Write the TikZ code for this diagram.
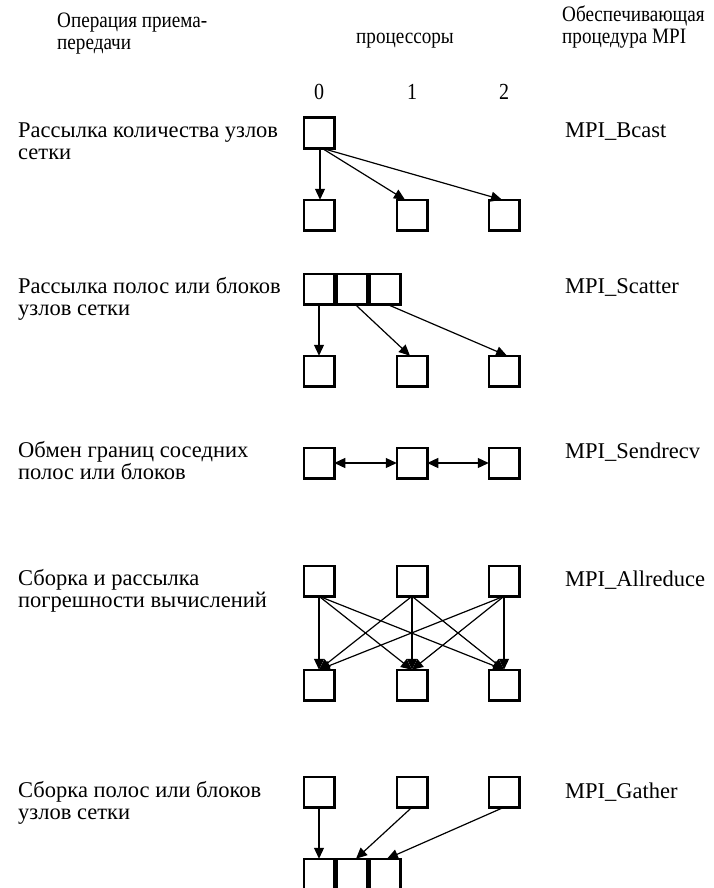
\documentclass[tikz,border=0pt]{standalone}
\usepackage{fontspec}
\setmainfont{Liberation Serif}
\newfontfamily\condfont[FakeStretch=0.87]{Liberation Serif}
\usetikzlibrary{arrows.meta}
\begin{document}
\begin{tikzpicture}[x=1pt,y=-1pt,
  bx/.style={draw,line width=2.5pt,minimum size=30.5pt,inner sep=0pt,outer sep=0pt},
  txt/.style={anchor=base west,inner sep=0pt,font=\fontsize{22.5}{21}\selectfont},
  htxt/.style={anchor=base west,inner sep=0pt,font=\condfont\fontsize{22}{22}\selectfont},
  hd/.style={anchor=base,inner sep=0pt,font=\condfont\fontsize{23}{22}\selectfont},
  arr/.style={line width=1.2pt,-{Triangle[length=11pt,width=10pt]}},
  darr/.style={line width=1.2pt,{Triangle[length=11pt,width=10pt]}-{Triangle[length=11pt,width=10pt]}}]
\useasboundingbox (0,0) rectangle (713,888);
\clip (0,0) rectangle (713,888);
% headers
\node[htxt] (h1a) at (57,28) {Операция приема-};
\node[htxt] (h1b) at (57,50) {передачи};
\node[htxt] (h2) at (356,44) {процессоры};
\node[htxt] (h3a) at (562,22) {Обеспечивающая};
\node[htxt] (h3b) at (562,44) {процедура MPI};
\node[hd] (n0) at (319,100) {0};
\node[hd] (n1) at (412,100) {1};
\node[hd] (n2) at (504,100) {2};
% row 1
\node[txt] (l1a) at (18,137) {Рассылка количества узлов};
\node[txt] (l1b) at (18,159) {сетки};
\node[txt] (r1) at (565,138) {MPI\_Bcast};
\node[bx] (a0) at (319,133) {};
\node[bx] (a1) at (319,215) {};
\node[bx] (a2) at (412,215) {};
\node[bx] (a3) at (504,215) {};
\draw[arr] ([xshift=1pt]a0.south) -- ([xshift=1pt]a1.north);
\draw[arr] ([xshift=3pt]a0.south) -- ([xshift=-7pt]a2.north);
\draw[arr] ([xshift=3pt]a0.south) -- ([xshift=-2pt]a3.north);
% row 2
\node[txt] (l2a) at (18,293) {Рассылка полос или блоков};
\node[txt] (l2b) at (18,315) {узлов сетки};
\node[txt] (r2) at (565,293) {MPI\_Scatter};
\node[bx] (s0) at (319,289) {};
\node[bx] (s1) at (352,289) {};
\node[bx] (s2) at (385,289) {};
\node[bx] (c1) at (319,371) {};
\node[bx] (c2) at (412,371) {};
\node[bx] (c3) at (504,371) {};
\draw[arr] (s0.south) -- (c1.north);
\draw[arr] ([xshift=3pt]s1.south) -- ([xshift=-2pt]c2.north);
\draw[arr] ([xshift=2pt]s2.south) -- ([xshift=3pt]c3.north);
% row 3
\node[txt] (l3a) at (18,457) {Обмен границ соседних};
\node[txt] (l3b) at (18,479) {полос или блоков};
\node[txt] (r3) at (565,458) {MPI\_Sendrecv};
\node[bx] (e0) at (319,463) {};
\node[bx] (e1) at (412,463) {};
\node[bx] (e2) at (504,463) {};
\draw[darr] (e0.east) -- (e1.west);
\draw[darr] (e1.east) -- (e2.west);
% row 4
\node[txt] (l4a) at (18,585) {Сборка и рассылка};
\node[txt] (l4b) at (18,607) {погрешности вычислений};
\node[txt] (r4) at (565,586) {MPI\_Allreduce};
\node[bx] (t0) at (319,581) {};
\node[bx] (t1) at (412,581) {};
\node[bx] (t2) at (504,581) {};
\node[bx] (u0) at (319,685) {};
\node[bx] (u1) at (412,685) {};
\node[bx] (u2) at (504,685) {};
\foreach \i in {0,1,2}{
  \foreach \j in {0,1,2}{
    \draw[arr] (t\i.south) -- (u\j.north);
  }
}
% row 5
\node[txt] (l5a) at (18,797) {Сборка полос или блоков};
\node[txt] (l5b) at (18,819) {узлов сетки};
\node[txt] (r5) at (565,798) {MPI\_Gather};
\node[bx] (g0) at (319,792) {};
\node[bx] (g1) at (412,792) {};
\node[bx] (g2) at (504,792) {};
\node[bx] (k0) at (319,874) {};
\node[bx] (k1) at (352,874) {};
\node[bx] (k2) at (385,874) {};
\draw[arr] (g0.south) -- (k0.north);
\draw[arr] (g1.south) -- ([xshift=4pt]k1.north);
\draw[arr] (g2.south) -- ([xshift=2pt]k2.north);
\end{tikzpicture}
\end{document}
